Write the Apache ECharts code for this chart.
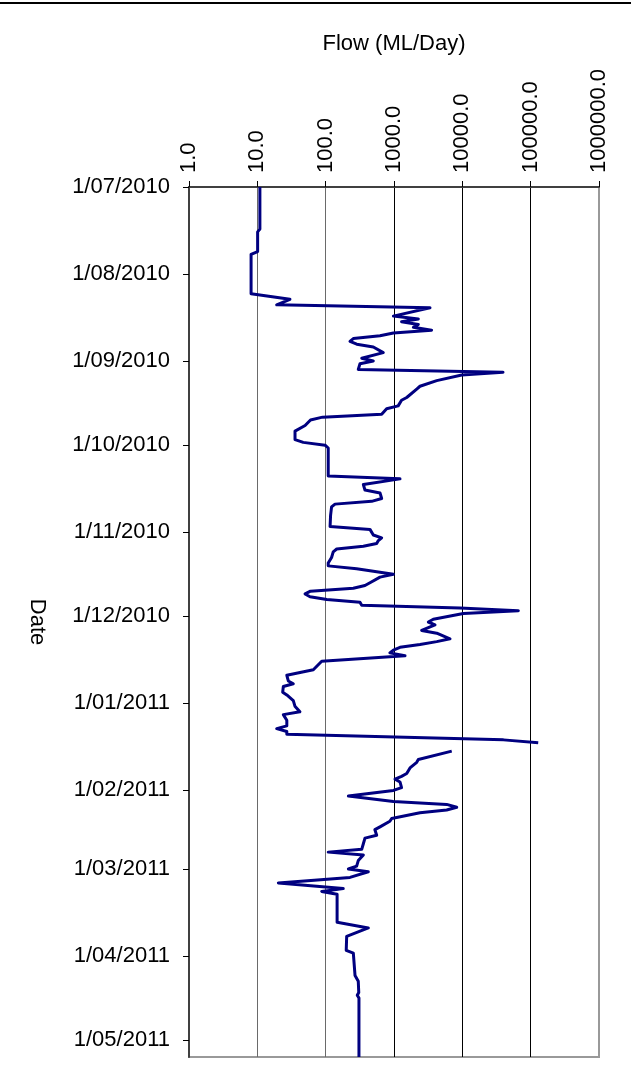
<!DOCTYPE html>
<html>
<head>
<meta charset="utf-8">
<title>Flow (ML/Day)</title>
<script src="https://cdn.jsdelivr.net/npm/echarts@6/dist/echarts.min.js"></script>
<style>
  html, body { margin: 0; padding: 0; background: #fff; }
  #chart { width: 631px; height: 1089px; }
</style>
</head>
<body>
<div id="chart"></div>
<script>
// Daily flow record, stored as vertices: day offset from the start date and flow in ML/Day.
// A null flow marks the missing stretch in mid January 2011.
const startDate = '2010-07-01';
const endDate = '2011-05-07';

const daysSinceStart = [
  0, 15, 16, 23, 24, 38, 40, 42, 43, 46,
  47, 48, 49, 50, 51, 52, 53, 54, 55, 56,
  57, 59, 61, 62, 63, 65, 66, 67, 69, 71,
  72, 75, 76, 78, 79, 81, 82, 83, 85, 87,
  90, 91, 92, 93, 103, 104, 106, 108, 109, 111,
  112, 113, 114, 117, 121, 122, 124, 125, 126, 127,
  128, 129, 130, 132, 134, 135, 136, 138, 139, 141,
  142, 143, 144, 145, 146, 147, 148, 149, 150, 151,
  152, 154, 155, 156, 158, 159, 161, 162, 163, 164,
  165, 166, 167, 169, 172, 174, 176, 177, 178, 180,
  181, 183, 185, 187, 188, 190, 192, 193, 194, 195,
  197, 198, 199, 201, 204, 205, 207, 209, 210, 211,
  212, 214, 215, 217, 219, 220, 221, 222, 223, 225,
  226, 228, 229, 231, 232, 234, 236, 237, 238, 240,
  242, 243, 244, 246, 248, 250, 251, 252, 262, 264,
  267, 272, 273, 281, 283, 287, 288, 289, 310
];

const flowMLDay = [
  10.9, 10.9, 10.1, 10.1, 8.1, 8.1, 30, 19.2, 3365, 980,
  2270, 1290, 2270, 1920, 3550, 980, 624, 254, 227, 285,
  498, 697, 337, 498, 318, 300, 39400, 9800, 4220, 2400,
  2150, 1535, 1290, 1150, 780, 660, 90, 60, 50, 35.6,
  35.6, 47, 98, 109, 109, 1224, 356, 376, 624, 660,
  471, 137, 122, 118, 116, 445, 498, 660, 590, 558,
  356, 145, 129, 122, 109, 109, 284, 980, 624, 445,
  376, 254, 60, 50, 59, 104, 318, 337, 9250, 66000,
  10350, 3760, 3180, 3980, 2540, 4220, 6600, 4220, 2400, 1224,
  980, 870, 1450, 87.5, 66, 27, 28.4, 33.6, 24, 23.5,
  27, 33.6, 35.5, 42, 24, 27, 27, 19.2, 27, 27,
  40000, 129000, null, 7000, 2270, 2150, 1715, 1535, 1290, 1035,
  1224, 1290, 980, 215, 980, 5900, 8280, 5900, 2400, 925,
  870, 624, 525, 558, 376, 356, 337, 109, 356, 300,
  284, 215, 421, 227, 20.3, 181, 87.5, 147, 147, 421,
  203, 200, 254, 269, 300, 305, 290, 307, 307
];

// Month starts shown on the date axis
const monthTicks = [
  '2010-07-01', '2010-08-01', '2010-09-01', '2010-10-01', '2010-11-01', '2010-12-01',
  '2011-01-01', '2011-02-01', '2011-03-01', '2011-04-01', '2011-05-01'
];

// Decade marks on the flow axis
const flowTicks = [1, 10, 100, 1000, 10000, 100000, 1000000];

const DAY_MS = 86400000;
function toMs(iso) {
  const p = iso.split('-').map(Number);
  return Date.UTC(p[0], p[1] - 1, p[2]);
}
function fmtDate(ms) {
  const d = new Date(Math.round(ms / DAY_MS) * DAY_MS);
  const mm = String(d.getUTCMonth() + 1).padStart(2, '0');
  return d.getUTCDate() + '/' + mm + '/' + d.getUTCFullYear();
}

const t0 = toMs(startDate);
const seriesData = daysSinceStart.map((d, i) => [flowMLDay[i] === null ? '-' : flowMLDay[i], t0 + d * DAY_MS]);
const monthMs = monthTicks.map(toMs);

const FONT = 'Liberation Sans, Arial, sans-serif';

const chart = echarts.init(document.getElementById('chart'), null, { renderer: 'canvas' });
chart.setOption({
  animation: false,
  backgroundColor: '#fff',
  grid: {
    show: true,
    left: 189, top: 187, right: 32, bottom: 32,
    borderColor: '#999', borderWidth: 2,
    backgroundColor: 'transparent'
  },
  graphic: [
    { type: 'line', shape: { x1: 0, y1: 3, x2: 631, y2: 3 }, style: { stroke: '#000', lineWidth: 2 }, silent: true }
  ],
  xAxis: {
    type: 'log',
    logBase: 10,
    min: flowTicks[0],
    max: flowTicks[flowTicks.length - 1],
    splitNumber: 6,
    position: 'top',
    name: 'Flow (ML/Day)',
    nameLocation: 'middle',
    nameGap: 132,
    nameTextStyle: { fontSize: 22, fontFamily: FONT, color: '#000' },
    axisLine: { show: true, lineStyle: { color: '#404040', width: 2 } },
    axisTick: { show: true, inside: false, length: 6, lineStyle: { color: '#000', width: 1 } },
    axisLabel: {
      rotate: -90,
      margin: 14,
      fontSize: 22,
      fontFamily: FONT,
      color: '#000',
      formatter: v => Number(v).toFixed(1)
    },
    splitLine: {
      show: true,
      lineStyle: { color: ['#555', '#6a6a6a', '#6a6a6a', '#000', '#000', '#000', '#999'], width: 1 }
    }
  },
  yAxis: {
    type: 'value',
    inverse: true,
    min: t0,
    max: toMs(endDate),
    name: 'Date',
    nameLocation: 'middle',
    nameRotate: -90,
    nameGap: 141,
    nameTextStyle: { fontSize: 22, fontFamily: FONT, color: '#000' },
    axisLine: { show: true, lineStyle: { color: '#404040', width: 2 } },
    axisTick: { show: true, inside: false, length: 6, customValues: monthMs, lineStyle: { color: '#000', width: 1 } },
    axisLabel: {
      customValues: monthMs,
      margin: 19,
      fontSize: 22,
      fontFamily: FONT,
      color: '#000',
      formatter: v => fmtDate(v)
    },
    splitLine: { show: false }
  },
  series: [{
    type: 'line',
    data: seriesData,
    showSymbol: false,
    connectNulls: false,
    lineStyle: { color: '#000080', width: 3, join: 'round' },
    itemStyle: { color: '#000080' }
  }]
});
</script>
</body>
</html>
